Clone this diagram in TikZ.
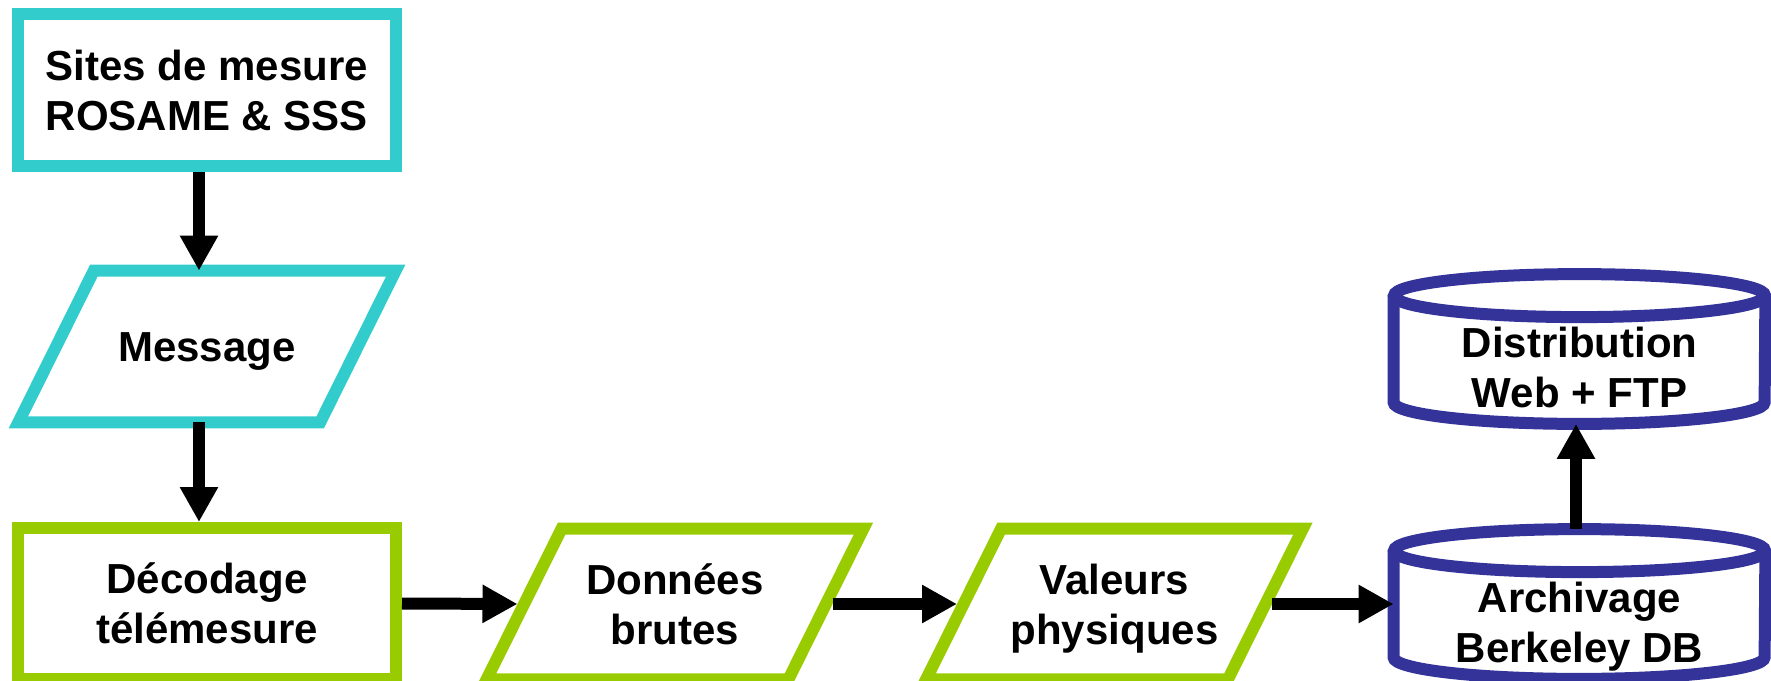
\documentclass[tikz,border=0pt]{standalone}
\usepackage{fontspec}
\setmainfont{Liberation Sans}
\usetikzlibrary{arrows.meta}
\definecolor{tealc}{HTML}{33CCCC}
\definecolor{greenc}{HTML}{99CC00}
\definecolor{bluec}{HTML}{333399}
\newcommand\tA{\rule{0pt}{20pt}}
\newcommand\tB{\rule[-5pt]{0pt}{5pt}}
\newcommand\cA{\rule{0pt}{38pt}}
\newcommand\paradraw[3]{%
  \draw[border,#3] ([xshift=#2]#1.north west) -- ([xshift=#2]#1.north east)
    -- ([xshift=-#2]#1.south east) -- ([xshift=-#2]#1.south west) -- cycle;}
\newcommand\cyldraw[1]{%
  \draw[border,bluec] ([yshift=-10.75pt]#1.north west) -- ([yshift=10.75pt]#1.south west)
    arc[start angle=180,end angle=360,x radius=92.75pt,y radius=10.75pt]
    -- ([yshift=-10.75pt]#1.north east);
  \draw[border,bluec] ([yshift=-10.75pt]#1.north) ellipse[x radius=92.75pt,y radius=10.75pt];}
\begin{document}
\begin{tikzpicture}[x=0.5pt,y=-0.5pt,
  txt/.style={font=\fontsize{21}{25}\selectfont\bfseries, align=center, inner sep=0pt},
  boxnode/.style={txt, draw, line width=6pt, minimum width=189pt, minimum height=75.5pt},
  paranode/.style={txt, minimum width=150.5pt},
  cylnode/.style={txt, minimum width=185.5pt, minimum height=74.5pt},
  border/.style={line width=6pt, line join=miter},
  arr/.style={line width=6pt, -{Triangle[length=17.5pt,width=18pt]}},
]
\useasboundingbox (0,0) rectangle (1771,680);
\clip (0,0) rectangle (1771,680);

\node[boxnode, draw=tealc, minimum height=76pt] (sites) at (207,90) {\tA Sites de mesure\\ROSAME \& SSS\tB};
\node[paranode, minimum height=75.5pt] (msg) at (207,346.5) {\tA Message\tB};
\node[boxnode, draw=greenc] (dec) at (207,603.5) {\tA Décodage\\télémesure\tB};
\node[paranode, minimum height=75pt] (don) at (675,604) {\tA Données\\brutes\tB};
\node[paranode, minimum height=75pt] (val) at (1114.5,604) {\tA Valeurs\\physiques\tB};
\node[cylnode] (arch) at (1579.5,604) {\cA Archivage\\Berkeley DB\tB};
\node[cylnode] (dist) at (1579.5,349) {\cA Distribution\\Web + FTP\tB};

\paradraw{msg}{18.875pt}{tealc}
\paradraw{don}{18.75pt}{greenc}
\paradraw{val}{18.75pt}{greenc}
\cyldraw{arch}
\cyldraw{dist}

\draw[arr] ([xshift=-4pt]sites.south) -- ([xshift=-4pt]msg.north);
\draw[arr] ([xshift=-4pt]msg.south) -- ([xshift=-4pt]dec.north);
\draw[arr, shorten >=3.3pt] (dec.east) -- (don.west);
\draw[arr, shorten <=3.3pt, shorten >=3.3pt] (don.east) -- (val.west);
\draw[arr, shorten <=3.3pt] (val.east) -- (arch.west);
\draw[arr] ([xshift=-1.75pt]arch.north) -- ([xshift=-1.75pt]dist.south);
\end{tikzpicture}
\end{document}
